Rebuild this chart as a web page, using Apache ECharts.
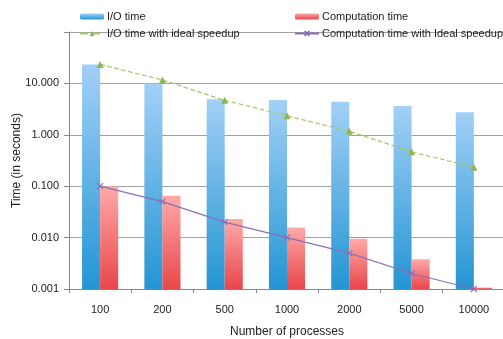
<!DOCTYPE html>
<html><head><meta charset="utf-8">
<script src="https://cdn.jsdelivr.net/npm/echarts@6/dist/echarts.min.js"></script>
<style>html,body{margin:0;padding:0;background:#fff}#c{width:503px;height:339px}</style>
</head><body><div id="c"></div>
<script>
const categories = ['100','200','500','1000','2000','5000','10000'];
const ioTime = [23.4, 9.9, 4.9, 4.75, 4.4, 3.65, 2.75];
const compTime = [0.1, 0.065, 0.023, 0.0157, 0.0095, 0.0038, 0.00107];
const ioIdeal = [23.4, 11.7, 4.68, 2.34, 1.17, 0.468, 0.234];
const compIdeal = [0.1, 0.05, 0.02, 0.01, 0.005, 0.002, 0.001];

const FONT = 'Liberation Sans';
const chart = echarts.init(document.getElementById('c'));
const crossPath = 'path://M0,0L10,10M10,0L0,10';
chart.setOption({
  animation: false,
  textStyle: {fontFamily: FONT},
  legend: [
    {left: 79, top: 11, padding: 0, orient: 'vertical', itemGap: 6, itemWidth: 24, itemHeight: 6,
     textStyle: {fontSize: 11, color: '#222', fontFamily: FONT, padding: [0,0,0,-2]},
     data: ['I/O time', 'I/O time with ideal speedup']},
    {left: 294, top: 11, padding: 0, orient: 'vertical', itemGap: 6, itemWidth: 24, itemHeight: 6,
     textStyle: {fontSize: 11, color: '#222', fontFamily: FONT, padding: [0,0,0,-2]},
     data: ['Computation time', 'Computation time with Ideal speedup']}
  ],
  grid: {left: 69, right: -2, top: 32, bottom: 50, containLabel: false, outerBoundsMode: 'none'},
  xAxis: {
    type: 'category', data: categories,
    name: 'Number of processes', nameLocation: 'middle', nameGap: 37, nameMoveOverlap: false,
    nameTextStyle: {fontSize: 12, color: '#222'},
    axisLine: {lineStyle: {color: '#888'}},
    axisTick: {show: true, length: 4, lineStyle: {color: '#888'}},
    axisLabel: {fontSize: 11, color: '#222', margin: 15}
  },
  yAxis: {
    type: 'log', logBase: 10, min: 0.001, max: 100, startValue: 0.001,
    name: 'Time (in seconds)', nameLocation: 'middle', nameGap: 46, nameRotate: 90, nameMoveOverlap: false,
    nameTextStyle: {fontSize: 12, color: '#222'},
    axisLine: {show: true, lineStyle: {color: '#888'}},
    axisTick: {show: true, length: 5, lineStyle: {color: '#888'}},
    axisLabel: {fontSize: 11, color: '#222', margin: 10,
      formatter: v => v >= 100 ? '' : v.toFixed(3)},
    splitLine: {lineStyle: {color: '#a0a0a0'}},
    minorTick: {show: false}
  },
  series: [
    {name: 'I/O time', type: 'bar', data: ioTime, barGap: '0%', barCategoryGap: '42%',
     itemStyle: {color: new echarts.graphic.LinearGradient(0,0,0,1,[
       {offset: 0, color: '#a2d0f7'}, {offset: 1, color: '#2495d3'}])}},
    {name: 'Computation time', type: 'bar', data: compTime,
     itemStyle: {color: new echarts.graphic.LinearGradient(0,0,0,1,[
       {offset: 0, color: '#ffa9a9'}, {offset: 1, color: '#e8464a'}])}},
    {name: 'I/O time with ideal speedup', type: 'line', data: ioIdeal,
     symbol: 'triangle', symbolSize: 7,
     lineStyle: {color: '#a5c96a', type: 'dashed', width: 1.2},
     itemStyle: {color: '#8db552'}},
    {name: 'Computation time with Ideal speedup', type: 'line', data: compIdeal,
     symbol: crossPath, symbolSize: 6,
     lineStyle: {color: '#8a6fb5', width: 1.2},
     itemStyle: {color: '#8a6fb5', borderColor: '#8a6fb5', borderWidth: 1.2}}
  ]
});
</script></body></html>
